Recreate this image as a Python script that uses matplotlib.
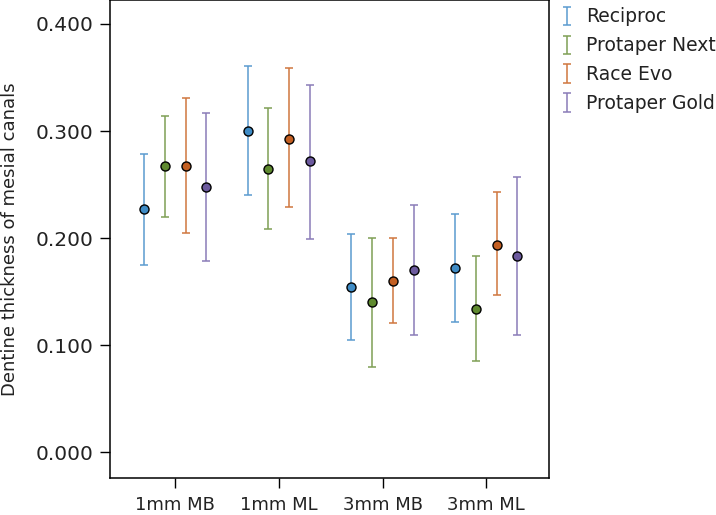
import matplotlib
matplotlib.use("Agg")
import matplotlib.pyplot as plt
import numpy as np

categories = ["1mm MB", "1mm ML", "3mm MB", "3mm ML"]
series = ["Reciproc", "Protaper Next", "Race Evo", "Protaper Gold"]

mean_reciproc = [0.227, 0.300, 0.154, 0.172]
low_reciproc = [0.175, 0.240, 0.105, 0.122]
high_reciproc = [0.279, 0.361, 0.204, 0.223]

mean_next = [0.267, 0.265, 0.140, 0.134]
low_next = [0.220, 0.209, 0.080, 0.085]
high_next = [0.314, 0.322, 0.200, 0.183]

mean_race = [0.267, 0.293, 0.160, 0.194]
low_race = [0.205, 0.229, 0.121, 0.147]
high_race = [0.331, 0.359, 0.200, 0.243]

mean_gold = [0.248, 0.272, 0.170, 0.183]
low_gold = [0.179, 0.199, 0.110, 0.110]
high_gold = [0.317, 0.343, 0.231, 0.257]

yticks = [0.0, 0.1, 0.2, 0.3, 0.4]

line_colors = ["#5b9bd0", "#7f9f55", "#d0763f", "#8a7cb8"]
fill_colors = ["#3f8cc6", "#5f8a2f", "#c35f22", "#6c5a9e"]

means = [mean_reciproc, mean_next, mean_race, mean_gold]
lows = [low_reciproc, low_next, low_race, low_gold]
highs = [high_reciproc, high_next, high_race, high_gold]

fig = plt.figure(figsize=(7.16, 5.15), dpi=100)
ax = fig.add_axes([110/716, 1 - 477.7/515, (549 - 110)/716, 477.7/515])

x = np.arange(len(categories))
offsets = [-0.3, -0.1, 0.1, 0.3]
handles = []
for i, name in enumerate(series):
    m = np.array(means[i]); lo = np.array(lows[i]); hi = np.array(highs[i])
    eb = ax.errorbar(x + offsets[i], m, yerr=[m - lo, hi - m], fmt='none',
                     ecolor=line_colors[i], elinewidth=1.1, capsize=2.6, capthick=1.1)
    ax.plot(x + offsets[i], m, 'o', color=fill_colors[i], markeredgecolor='black',
            markeredgewidth=1.0, markersize=6.5, zorder=3)
    handles.append(eb)

ax.set_xlim(-0.628, 3.605)
ax.set_ylim(-0.0237, 0.4224)
ax.set_xticks(x)
ax.set_xticklabels(categories)
ax.set_yticks(yticks)
ax.set_yticklabels([f"{v:.3f}" for v in yticks])
ax.tick_params(axis='y', length=7, width=1.0, pad=5, labelsize=14.5, labelcolor='#222222')
ax.tick_params(axis='x', length=7, width=1.0, pad=6.5, labelsize=13, labelcolor='#222222')
for s in ax.spines.values():
    s.set_linewidth(1.1)
ax.set_ylabel("Dentine thickness of mesial canals", fontsize=13, color='#222222')
ax.yaxis.set_label_coords(-0.208, 0.5)

leg = fig.legend(handles, series, loc='upper left', bbox_to_anchor=(552/716, 1.0),
                 frameon=False, fontsize=13.5, handlelength=0.8, handletextpad=0.6,
                 labelspacing=0.53, borderaxespad=0)
for t in leg.get_texts():
    t.set_color('#222222')

fig.savefig("out.png", dpi=100)
